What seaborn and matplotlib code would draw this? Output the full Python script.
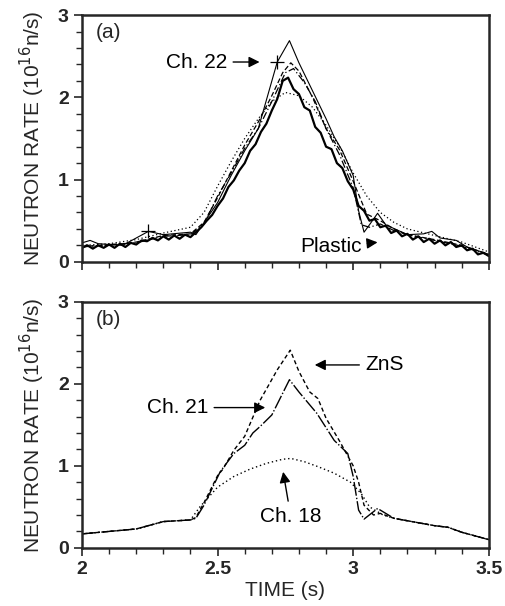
import matplotlib
matplotlib.use("Agg")
import matplotlib.pyplot as plt
from matplotlib.ticker import MultipleLocator
import seaborn as sns

# --- panel (a): plastic scintillator (noisy) and other channels ---
plastic_t = [2.00, 2.02, 2.04, 2.06, 2.08, 2.10, 2.12, 2.14, 2.16, 2.18,
             2.20, 2.22, 2.24, 2.26, 2.28, 2.30, 2.32, 2.34, 2.36, 2.38,
             2.40, 2.42, 2.44, 2.46, 2.48, 2.50, 2.52, 2.54, 2.56, 2.58,
             2.60, 2.62, 2.64, 2.66, 2.68, 2.70, 2.72, 2.74, 2.76, 2.78,
             2.80, 2.82, 2.84, 2.86, 2.88, 2.90, 2.92, 2.94, 2.96, 2.98,
             3.00, 3.02, 3.04, 3.06, 3.08, 3.10, 3.12, 3.14, 3.16, 3.18,
             3.20, 3.22, 3.24, 3.26, 3.28, 3.30, 3.32, 3.34, 3.36, 3.38,
             3.40, 3.42, 3.44, 3.46, 3.48, 3.50]
plastic_y = [0.17, 0.20, 0.16, 0.20, 0.17, 0.21, 0.17, 0.22, 0.18, 0.23,
             0.21, 0.26, 0.25, 0.29, 0.26, 0.31, 0.27, 0.32, 0.28, 0.33,
             0.30, 0.36, 0.42, 0.50, 0.57, 0.68, 0.77, 0.91, 0.99, 1.11,
             1.20, 1.35, 1.43, 1.58, 1.68, 1.84, 1.98, 2.20, 2.24, 2.10,
             2.04, 1.88, 1.84, 1.64, 1.57, 1.40, 1.37, 1.20, 1.14, 0.98,
             0.88, 0.68, 0.62, 0.50, 0.52, 0.42, 0.44, 0.35, 0.38, 0.31,
             0.34, 0.27, 0.31, 0.24, 0.28, 0.22, 0.26, 0.20, 0.24, 0.18,
             0.20, 0.14, 0.16, 0.09, 0.11, 0.07]

ch22_t = [2.00, 2.03, 2.06, 2.15, 2.245, 2.30, 2.40, 2.42, 2.50, 2.55, 2.60,
          2.65, 2.72, 2.765, 2.80, 2.85, 2.90, 2.93, 2.96, 3.00, 3.02, 3.04,
          3.06, 3.09, 3.12, 3.20, 3.26, 3.29, 3.32, 3.38, 3.42, 3.50]
ch22_y = [0.23, 0.26, 0.22, 0.20, 0.37, 0.33, 0.36, 0.33, 0.72, 1.05, 1.35,
          1.62, 2.43, 2.69, 2.42, 2.08, 1.74, 1.52, 1.35, 1.05, 0.62, 0.36,
          0.45, 0.59, 0.45, 0.33, 0.34, 0.37, 0.29, 0.26, 0.18, 0.09]
ch22_plus_t = [2.245, 2.72]
ch22_plus_y = [0.37, 2.43]

dashed_a_t = [2.00, 2.10, 2.20, 2.30, 2.40, 2.45, 2.50, 2.55, 2.60, 2.65,
              2.70, 2.74, 2.77, 2.80, 2.85, 2.90, 2.95, 3.00, 3.05, 3.10,
              3.15, 3.20, 3.30, 3.40, 3.50]
dashed_a_y = [0.19, 0.20, 0.24, 0.32, 0.34, 0.48, 0.78, 1.10, 1.42, 1.70,
              2.02, 2.30, 2.42, 2.32, 2.00, 1.62, 1.36, 0.98, 0.58, 0.50,
              0.40, 0.33, 0.27, 0.20, 0.09]

dashdot_a_t = [2.00, 2.10, 2.20, 2.30, 2.40, 2.45, 2.50, 2.55, 2.60, 2.65,
               2.70, 2.75, 2.78, 2.82, 2.86, 2.90, 2.95, 3.00, 3.03, 3.06,
               3.10, 3.15, 3.20, 3.30, 3.40, 3.50]
dashdot_a_y = [0.18, 0.21, 0.23, 0.31, 0.33, 0.46, 0.80, 1.08, 1.38, 1.62,
               1.95, 2.30, 2.35, 2.18, 1.95, 1.62, 1.30, 0.90, 0.45, 0.42,
               0.46, 0.38, 0.33, 0.26, 0.19, 0.08]

dotted_a_t = [2.00, 2.10, 2.20, 2.30, 2.40, 2.45, 2.50, 2.55, 2.60, 2.65,
              2.70, 2.75, 2.80, 2.85, 2.90, 2.95, 3.00, 3.05, 3.10, 3.15,
              3.20, 3.30, 3.40, 3.50]
dotted_a_y = [0.20, 0.22, 0.27, 0.35, 0.42, 0.60, 0.92, 1.22, 1.50, 1.74,
              1.95, 2.06, 2.02, 1.88, 1.66, 1.40, 1.08, 0.80, 0.60, 0.48,
              0.40, 0.32, 0.24, 0.12]

# --- panel (b): ZnS, Ch. 21, Ch. 18 ---
zns_t = [2.00, 2.10, 2.20, 2.30, 2.40, 2.42, 2.45, 2.50, 2.52, 2.56, 2.60,
         2.657, 2.72, 2.768, 2.80, 2.84, 2.87, 2.90, 2.95, 3.00, 3.02, 3.04,
         3.075, 3.10, 3.15, 3.20, 3.30, 3.35, 3.40, 3.50]
zns_y = [0.17, 0.20, 0.23, 0.32, 0.34, 0.37, 0.55, 0.88, 0.96, 1.19, 1.36,
         1.80, 2.17, 2.41, 2.15, 1.90, 1.82, 1.58, 1.30, 1.00, 0.80, 0.52,
         0.40, 0.42, 0.36, 0.33, 0.27, 0.25, 0.19, 0.10]

ch21_t = [2.00, 2.10, 2.20, 2.30, 2.40, 2.42, 2.45, 2.51, 2.56, 2.60, 2.63,
          2.657, 2.70, 2.765, 2.80, 2.866, 2.93, 2.98, 3.00, 3.02, 3.04,
          3.09, 3.12, 3.15, 3.20, 3.30, 3.35, 3.40, 3.50]
ch21_y = [0.17, 0.20, 0.23, 0.32, 0.34, 0.36, 0.52, 0.93, 1.15, 1.25, 1.40,
          1.48, 1.62, 2.05, 1.90, 1.64, 1.31, 1.15, 0.87, 0.46, 0.35,
          0.48, 0.42, 0.36, 0.33, 0.27, 0.25, 0.19, 0.10]

ch18_t = [2.00, 2.10, 2.20, 2.30, 2.40, 2.435, 2.50, 2.56, 2.62, 2.68, 2.74,
          2.77, 2.82, 2.87, 2.93, 2.99, 3.03, 3.06, 3.11, 3.15, 3.20, 3.30,
          3.35, 3.40, 3.50]
ch18_y = [0.17, 0.20, 0.23, 0.32, 0.34, 0.50, 0.74, 0.87, 0.96, 1.03, 1.08,
          1.09, 1.05, 0.99, 0.91, 0.80, 0.66, 0.50, 0.40, 0.36, 0.33, 0.27,
          0.25, 0.19, 0.10]

x_ticks = [2, 2.5, 3, 3.5]
x_labels = ["2", "2.5", "3", "3.5"]
y_ticks = [0, 1, 2, 3]
y_labels = ["0", "1", "2", "3"]

sns.set_style("ticks")
plt.rcParams["font.family"] = ["Liberation Sans", "DejaVu Sans"]

fig = plt.figure(figsize=(5.06, 6.06), dpi=100)
ax_a = fig.add_axes([0.162, 0.568, 0.804, 0.407])
ax_b = fig.add_axes([0.162, 0.096, 0.804, 0.406])

# panel (a)
sns.lineplot(x=dotted_a_t, y=dotted_a_y, ax=ax_a, color="k", lw=0.9, linestyle=(0, (1, 2)))
sns.lineplot(x=dashed_a_t, y=dashed_a_y, ax=ax_a, color="k", lw=0.9, linestyle=(0, (4, 2)))
sns.lineplot(x=dashdot_a_t, y=dashdot_a_y, ax=ax_a, color="k", lw=0.9, linestyle=(0, (6, 2, 1, 2)))
sns.lineplot(x=ch22_t, y=ch22_y, ax=ax_a, color="k", lw=0.8)
sns.lineplot(x=plastic_t, y=plastic_y, ax=ax_a, color="k", lw=1.6)
ax_a.scatter(ch22_plus_t, ch22_plus_y, marker="+", s=90, color="k", lw=0.9, zorder=5)

# panel (b)
sns.lineplot(x=zns_t, y=zns_y, ax=ax_b, color="k", lw=1.0, linestyle=(0, (3, 2)))
sns.lineplot(x=ch21_t, y=ch21_y, ax=ax_b, color="k", lw=1.0, linestyle=(0, (10, 1.5, 1, 1.5)))
sns.lineplot(x=ch18_t, y=ch18_y, ax=ax_b, color="k", lw=1.0, linestyle=(0, (1, 2)))

arrow = dict(arrowstyle="-|>", color="k", lw=1.0, mutation_scale=16)
txt = dict(fontsize=15, color="k", va="center")

ax_a.text(0.035, 0.93, "(a)", transform=ax_a.transAxes, fontsize=15, va="center")
ax_a.annotate("Ch. 22", xy=(2.665, 2.43), xytext=(2.535, 2.43), ha="right",
              arrowprops=arrow, **txt)
ax_a.annotate("Plastic", xy=(3.10, 0.24), xytext=(3.03, 0.18), ha="right",
              arrowprops=arrow, **txt)

ax_b.text(0.035, 0.93, "(b)", transform=ax_b.transAxes, fontsize=15, va="center")
ax_b.annotate("ZnS", xy=(2.848, 2.23), xytext=(3.045, 2.23), ha="left",
              arrowprops=arrow, **txt)
ax_b.annotate("Ch. 21", xy=(2.686, 1.71), xytext=(2.465, 1.71), ha="right",
              arrowprops=arrow, **txt)
ax_b.annotate("Ch. 18", xy=(2.74, 0.96), xytext=(2.77, 0.38), ha="center",
              arrowprops=arrow, **txt)

for ax in (ax_a, ax_b):
    ax.set_xlim(2, 3.5)
    ax.set_ylim(0, 3)
    ax.set_xticks(x_ticks)
    ax.set_yticks(y_ticks)
    ax.xaxis.set_minor_locator(MultipleLocator(0.1))
    ax.yaxis.set_minor_locator(MultipleLocator(0.2))
    ax.tick_params(which="major", direction="out", length=6, width=1.2,
                   labelsize=14, top=False, right=False)
    ax.tick_params(which="minor", direction="out", length=4, width=1.0,
                   top=False, right=False)
    for sp in ax.spines.values():
        sp.set_visible(True)
        sp.set_linewidth(1.8)
    ax.set_ylabel("NEUTRON RATE (10$^{16}$n/s)", fontsize=15, labelpad=8)
    ax.set_yticklabels(y_labels, fontweight="bold")

ax_a.set_xticklabels([])
ax_a.set_xlabel("")
ax_b.set_xticklabels(x_labels, fontweight="bold")
ax_b.set_xlabel("TIME (s)", fontsize=15, labelpad=2)

fig.savefig("out.png", dpi=100)
